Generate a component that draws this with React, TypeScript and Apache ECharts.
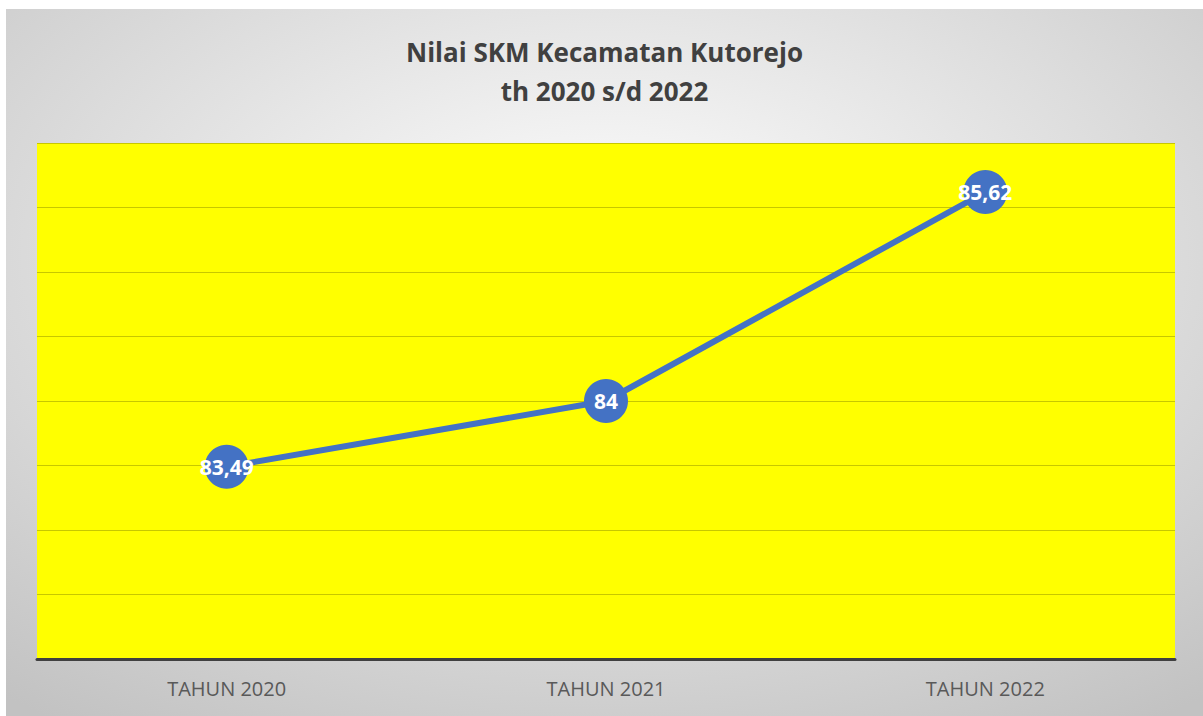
import React, { useEffect, useRef } from "react";
import * as echarts from "echarts";

const categories = ["TAHUN 2020", "TAHUN 2021", "TAHUN 2022"];
const values = [83.49, 84, 85.62];
const titleLines = ["Nilai SKM Kecamatan Kutorejo", "th 2020 s/d 2022"];

export default function App() {
  const ref = useRef<HTMLDivElement>(null);
  useEffect(() => {
    const chart = echarts.init(ref.current!, null, { renderer: "svg" });
    chart.setOption({
      animation: false,
      backgroundColor: {
        type: "radial",
        x: 0.5,
        y: 0.35,
        r: 0.8,
        colorStops: [
          { offset: 0, color: "#ffffff" },
          { offset: 1, color: "#c2c2c2" },
        ],
      },
      title: {
        text: titleLines.join("\n"),
        left: "center",
        top: 18,
        textStyle: {
          fontFamily: "Open Sans",
          fontWeight: "bold",
          fontSize: 26,
          lineHeight: 39,
          color: "#404040",
        },
      },
      grid: {
        left: 31,
        right: 28,
        top: 134,
        bottom: 57,
        show: true,
        backgroundColor: "#ffff00",
        borderWidth: 0,
      },
      xAxis: {
        type: "category",
        data: categories,
        boundaryGap: true,
        axisLine: { lineStyle: { color: "#404040", width: 3 } },
        axisTick: { show: false },
        axisLabel: {
          color: "#595959",
          fontSize: 20,
          fontFamily: "Open Sans",
          margin: 19,
        },
      },
      yAxis: {
        type: "value",
        min: 82,
        max: 86,
        interval: 0.5,
        axisLabel: { show: false },
        axisLine: { show: false },
        axisTick: { show: false },
        splitLine: { lineStyle: { color: "rgba(0,0,0,0.22)", width: 1 } },
      },
      series: [
        {
          type: "line",
          data: values,
          symbol: "circle",
          symbolSize: 44,
          itemStyle: { color: "#4472C4" },
          lineStyle: { color: "#4472C4", width: 6 },
          label: {
            show: true,
            position: "inside",
            color: "#ffffff",
            fontWeight: "bold",
            fontSize: 21,
            fontFamily: "Open Sans",
            formatter: (p: any) => String(p.value).replace(".", ","),
          },
        },
      ],
    });
    return () => chart.dispose();
  }, []);
  return (
    <div
      style={{
        position: "fixed",
        left: 0,
        top: 0,
        width: 1203,
        height: 716,
        background: "#ffffff",
      }}
    >
      <div
        ref={ref}
        style={{ position: "absolute", left: 6, top: 9, width: 1197, height: 707 }}
      />
    </div>
  );
}
